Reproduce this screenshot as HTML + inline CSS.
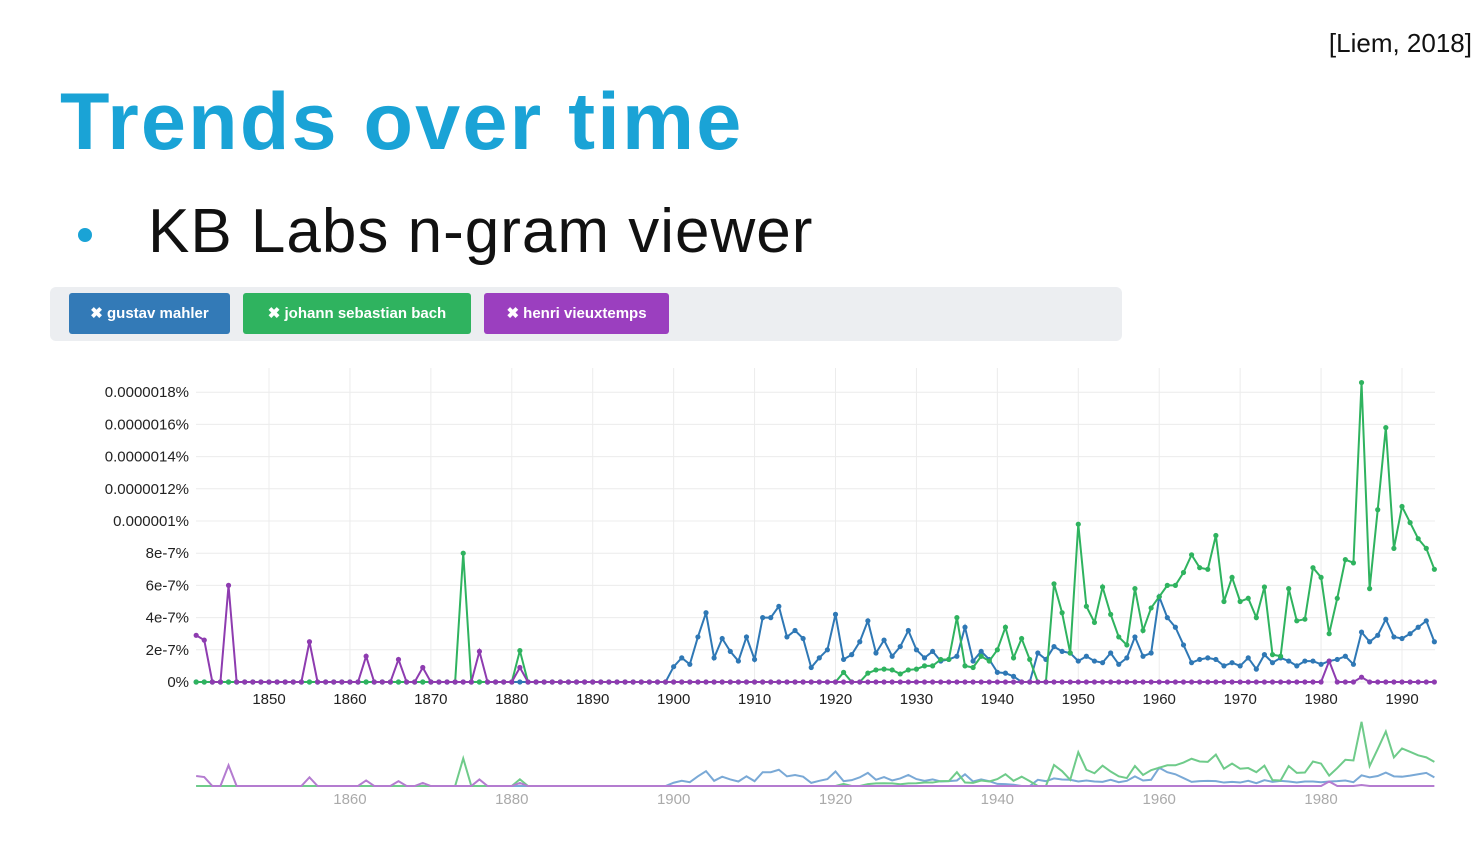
<!DOCTYPE html>
<html><head><meta charset="utf-8"><style>
body{margin:0;width:1481px;height:856px;background:#fff;font-family:"Liberation Sans",sans-serif;overflow:hidden;position:relative}
.abs{position:absolute}
.tag{position:absolute;top:293px;height:41px;border-radius:3px;color:#fff;font-size:15px;font-weight:bold;line-height:41px;text-align:center}
</style></head><body>
<div class="abs" style="right:9px;top:28px;font-size:26px;color:#111">[Liem, 2018]</div>
<div class="abs" style="left:60px;top:76px;font-size:81px;font-weight:bold;color:#1aa3d6;letter-spacing:2.2px">Trends over time</div>
<div class="abs" style="left:78px;top:228px;width:14px;height:14px;border-radius:50%;background:#1aa3d6"></div>
<div class="abs" style="left:148px;top:196px;font-size:62px;color:#111;letter-spacing:1px">KB Labs n-gram viewer</div>
<div class="abs" style="left:50px;top:287px;width:1072px;height:54px;background:#eceef1;border-radius:6px"></div>
<div class="tag" style="left:69px;width:161px;background:#337ab7">✖ gustav mahler</div>
<div class="tag" style="left:243px;width:228px;background:#2fb35f">✖ johann sebastian bach</div>
<div class="tag" style="left:484px;width:185px;background:#9b3fbf">✖ henri vieuxtemps</div>
<svg class="abs" style="left:0;top:0" width="1481" height="856" id="chart"></svg>
<script>
const years=[];for(let y=1841;y<=1994;y++)years.push(y);
const xTicks=[1850,1860,1870,1880,1890,1900,1910,1920,1930,1940,1950,1960,1970,1980,1990];
const miniTicks=[1860,1880,1900,1920,1940,1960,1980];
const yTickVals=[0,2,4,6,8,10,12,14,16,18];
const yTickLabels=["0%","2e-7%","4e-7%","6e-7%","8e-7%","0.000001%","0.0000012%","0.0000014%","0.0000016%","0.0000018%"];
// values in units of 1e-7 %
const mahlerSparse={1900:0.95,1901:1.5,1902:1.1,1903:2.8,1904:4.3,1905:1.5,1906:2.7,1907:1.9,1908:1.3,1909:2.8,1910:1.4,1911:4.0,1912:4.0,1913:4.7,1914:2.8,1915:3.2,1916:2.7,1917:0.9,1918:1.5,1919:2.0,1920:4.2,1921:1.4,1922:1.7,1923:2.5,1924:3.8,1925:1.8,1926:2.6,1927:1.6,1928:2.2,1929:3.2,1930:2.0,1931:1.5,1932:1.9,1933:1.3,1934:1.4,1935:1.6,1936:3.4,1937:1.3,1938:1.9,1939:1.4,1940:0.6,1941:0.55,1942:0.35,1943:0,1944:0,1945:1.8,1946:1.4,1947:2.2,1948:1.9,1949:1.8,1950:1.3,1951:1.6,1952:1.3,1953:1.2,1954:1.8,1955:1.1,1956:1.5,1957:2.8,1958:1.6,1959:1.8,1960:5.3,1961:4.0,1962:3.4,1963:2.3,1964:1.2,1965:1.4,1966:1.5,1967:1.4,1968:1.0,1969:1.2,1970:1.0,1971:1.5,1972:0.8,1973:1.7,1974:1.2,1975:1.5,1976:1.3,1977:1.0,1978:1.3,1979:1.3,1980:1.1,1981:1.3,1982:1.4,1983:1.6,1984:1.1,1985:3.1,1986:2.5,1987:2.9,1988:3.9,1989:2.8,1990:2.7,1991:3.0,1992:3.4,1993:3.8,1994:2.5};
const bachSparse={1874:8,1881:1.95,1921:0.6,1924:0.55,1925:0.75,1926:0.8,1927:0.75,1928:0.5,1929:0.75,1930:0.8,1931:1.0,1932:1.0,1933:1.4,1934:1.4,1935:4.0,1936:1.0,1937:0.9,1938:1.6,1939:1.3,1940:2.0,1941:3.4,1942:1.5,1943:2.7,1944:1.4,1947:6.1,1948:4.3,1949:1.8,1950:9.8,1951:4.7,1952:3.7,1953:5.9,1954:4.2,1955:2.8,1956:2.3,1957:5.8,1958:3.2,1959:4.6,1960:5.3,1961:6.0,1962:6.0,1963:6.8,1964:7.9,1965:7.1,1966:7.0,1967:9.1,1968:5.0,1969:6.5,1970:5.0,1971:5.2,1972:4.0,1973:5.9,1974:1.7,1975:1.6,1976:5.8,1977:3.8,1978:3.9,1979:7.1,1980:6.5,1981:3.0,1982:5.2,1983:7.6,1984:7.4,1985:18.6,1986:5.8,1987:10.7,1988:15.8,1989:8.3,1990:10.9,1991:9.9,1992:8.9,1993:8.3,1994:7.0};
const vieuxSparse={1841:2.9,1842:2.6,1845:6,1855:2.5,1862:1.6,1866:1.4,1869:0.9,1876:1.9,1881:0.9,1981:1.3,1985:0.3};
const mahler=years.map(y=>mahlerSparse[y]||0);
const bach=years.map(y=>bachSparse[y]||0);
const vieux=years.map(y=>vieuxSparse[y]||0);

const svg=document.getElementById('chart');const NS='http://www.w3.org/2000/svg';
const X0=196,X1=1435,Y0=682,PX=(1402-269)/140;
const xs=y=>269+(y-1850)*PX;
const ys=v=>Y0-v*16.1;
const ysMini=v=>786-v*3.45;
function el(t,a,p){const e=document.createElementNS(NS,t);for(const k in a)e.setAttribute(k,a[k]);(p||svg).appendChild(e);return e;}
const grid=el('g',{});
yTickVals.forEach((v,i)=>{
  el('line',{x1:X0,x2:X1,y1:ys(v),y2:ys(v),stroke:'#ececec','stroke-width':1},grid);
  const t=el('text',{x:189,y:ys(v)+5,'text-anchor':'end','font-size':15,fill:'#222'});
  
  
  t.textContent=yTickLabels[i];
});
xTicks.forEach(y=>{
  el('line',{x1:xs(y),x2:xs(y),y1:368,y2:Y0,stroke:'#ececec','stroke-width':1},grid);
  const t=el('text',{x:xs(y),y:704,'text-anchor':'middle','font-size':15,fill:'#222'});
  
  
  t.textContent=y;
});
function series(vals,color,name){
  const g=el('g',{});
  
  
  el('polyline',{points:vals.map((v,i)=>xs(years[i])+','+ys(v)).join(' '),fill:'none',stroke:color,'stroke-width':2},g);
  vals.forEach((v,i)=>{
    const c=el('circle',{cx:xs(years[i]),cy:ys(v),r:2.6,fill:color},g);
    
    
  });
}
function mini(vals,color,name){
  const p=el('polyline',{points:vals.map((v,i)=>xs(years[i])+','+ysMini(v)).join(' '),fill:'none',stroke:color,'stroke-width':2});
  
  
}
series(mahler,'#2f78b5','mahler');
series(bach,'#2fb35f','bach');
series(vieux,'#8e3cb0','vieuxtemps');
const nav=el('rect',{x:X0,y:715,width:X1-X0,height:72,fill:'#fff'});


mini(mahler,'#7aa9d6','mahler');
mini(bach,'#6fcb8a','bach');
mini(vieux,'#b47cd0','vieuxtemps');
miniTicks.forEach(y=>{
  const t=el('text',{x:xs(y),y:804,'text-anchor':'middle','font-size':15,fill:'#aaa'});
  
  
  t.textContent=y;
});
</script>
</body></html>
